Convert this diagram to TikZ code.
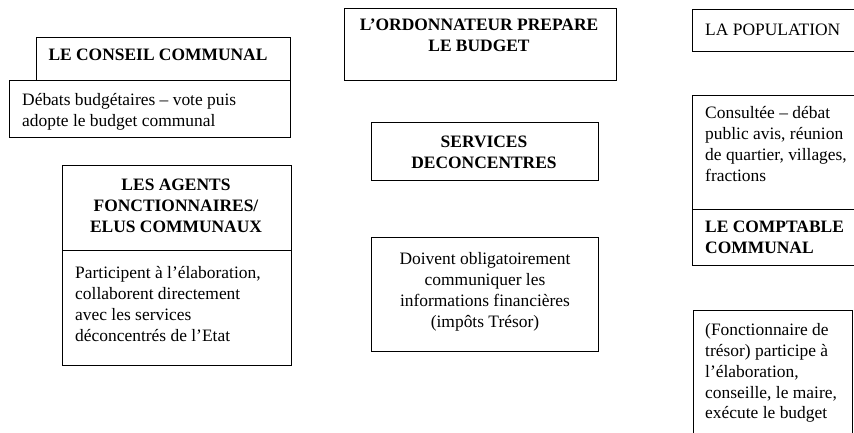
\documentclass[tikz,border=0pt]{standalone}
\usepackage{fontspec}
\setmainfont{Liberation Serif}
\usepackage{tikz}
\usetikzlibrary{positioning}

\tikzset{
  box/.style={draw, line width=1.1bp, anchor=north west, inner sep=0pt},
  head/.style={font=\fontsize{17.5}{21}\selectfont\bfseries, align=center, inner sep=0pt},
  body/.style={font=\fontsize{17.5}{21}\selectfont, align=left, inner sep=0pt, anchor=north west},
}

\begin{document}
\begin{tikzpicture}[x=1bp,y=-1bp]
\useasboundingbox (0,0) rectangle (854,432);
\clip (0,0) rectangle (854,432);
% left column
\node [box, minimum width=254bp, minimum height=43bp] (conseil) at (36,37) {};
\node [box, minimum width=281bp, minimum height=57bp] (debats) at (9,80) {};
\node [box, minimum width=229bp, minimum height=85bp] (agents) at (62,165) {};
\node [box, minimum width=229bp, minimum height=115bp] (agentsrole) at (62,250) {};
\node [head] (conseiltxt) at (158,55) {LE CONSEIL COMMUNAL};
\node [body] (debatstxt) at (22,93) {Débats budgétaires – vote puis\\adopte le budget communal};
\node [head, anchor=north] (agentstxt) at (176,179) {LES AGENTS\\FONCTIONNAIRES/\\ELUS COMMUNAUX};
\node [body] (agentsroletxt) at (75,266) {Participent à l’élaboration,\\collaborent directement\\avec les services\\déconcentrés de l’Etat};
% middle column
\node [box, minimum width=272bp, minimum height=72bp] (ordo) at (344,8) {};
\node [box, minimum width=227bp, minimum height=58bp] (services) at (371,122) {};
\node [box, minimum width=227bp, minimum height=114bp] (servicesrole) at (371,237) {};
\node [head, anchor=north] (ordotxt) at (479,19) {L’ORDONNATEUR PREPARE\\LE BUDGET};
\node [head, anchor=north] (servicestxt) at (484,136) {SERVICES\\DECONCENTRES};
\node [body, anchor=north, align=center] (servicesroletxt) at (485,252) {Doivent obligatoirement\\communiquer les\\informations financières\\(impôts Trésor)};
% right column
\node [box, minimum width=178bp, minimum height=42bp] (population) at (692,9) {};
\node [box, minimum width=178bp, minimum height=114bp] (consultee) at (692,95) {};
\node [box, minimum width=178bp, minimum height=56bp] (comptable) at (692,209) {};
\node [box, minimum width=159bp, minimum height=135bp] (comptablerole) at (693,310) {};
\node [body, anchor=west] (populationtxt) at (705,30) {LA POPULATION};
\node [body] (consulteetxt) at (705,106) {Consultée – débat\\public avis, réunion\\de quartier, villages,\\fractions};
\node [head, anchor=north west, align=left] (comptabletxt) at (705,221) {LE COMPTABLE\\COMMUNAL};
\node [body] (comptableroletxt) at (705,323) {(Fonctionnaire de\\trésor) participe à\\l’élaboration,\\conseille, le maire,\\exécute le budget};
\end{tikzpicture}
\end{document}
